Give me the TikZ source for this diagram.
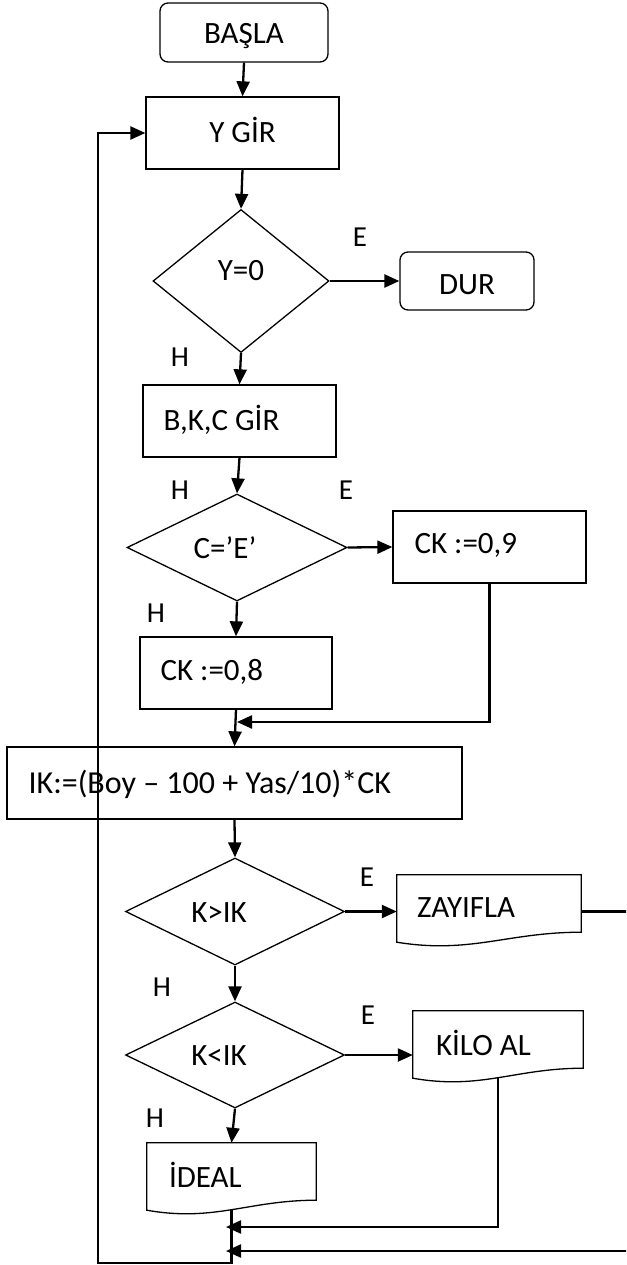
\documentclass[tikz,border=0pt]{standalone}
\usepackage{fontspec}
\setmainfont{Carlito}
\usetikzlibrary{shapes.geometric,arrows.meta,calc}
\newcommand\docshape[1]{%
  \draw[outl] (#1.south east) -- (#1.north east) -- (#1.north west) -- ([yshift=-10pt]#1.south west)
    .. controls ($(#1.south west)!0.4!(#1.south east)+(0pt,-22pt)$) and ($(#1.south west)!0.6!(#1.south east)$) .. (#1.south east) -- cycle;}
\begin{document}
\begin{tikzpicture}[x=1pt,y=-1pt,
  every node/.style={font=\fontsize{31pt}{37pt}\selectfont, inner sep=0pt},
  outl/.style={line width=1.3pt, line join=miter},
  proc/.style={draw, outl, rectangle},
  term/.style={proc, rounded corners=8pt},
  dec/.style={draw, outl, diamond, inner sep=0pt},
  docnode/.style={rectangle, draw=none},
  conn/.style={line width=2.3pt, -{Triangle[length=15pt,width=13pt]}},
  lbl/.style={font=\fontsize{29pt}{35pt}\selectfont}]
\useasboundingbox (0,0) rectangle (626,1265);
\clip (0,0) rectangle (626,1265);
\fill[white] (0,0) rectangle (626,1265);

% shapes
\node[term, minimum width=168pt, minimum height=59pt, label={[yshift=-4pt]center:{BAŞLA}}] (basla) at (244,32.5) {};
\node[proc, minimum width=193pt, minimum height=72pt, label={[yshift=3pt]center:{Y GİR}}] (ygir) at (242.5,133) {};
\node[dec, minimum width=176pt, minimum height=143pt, label={[yshift=10pt]center:{Y=0}}] (y0) at (241,281) {};
\node[term, minimum width=134pt, minimum height=58pt, label={[yshift=-4pt]center:{DUR}}] (dur) at (467,281) {};
\node[proc, minimum width=193pt, minimum height=72pt, label={[anchor=west,xshift=21pt,yshift=1pt]west:{B,K,C GİR}}] (bkc) at (239.5,421) {};
\node[dec, minimum width=220pt, minimum height=107pt, label={[xshift=-12pt]center:{C=’E’}}] (ce) at (237,547.5) {};
\node[proc, minimum width=193pt, minimum height=72pt, label={[anchor=west,xshift=22pt,yshift=2pt]west:{CK :=0,9}}] (ck9) at (489.5,547) {};
\node[proc, minimum width=192pt, minimum height=72pt, label={[anchor=west,xshift=21pt,yshift=1pt]west:{CK :=0,8}}] (ck8) at (236,673) {};
\node[proc, minimum width=455pt, minimum height=72pt, label={[anchor=west,xshift=22pt,yshift=-1pt,font=\fontsize{32pt}{38pt}\selectfont]west:{IK:=(Boy – 100 + Yas/10)*CK}}] (ik) at (234.5,783) {};
\node[dec, minimum width=219pt, minimum height=107pt, label={[xshift=-16pt,yshift=-1.5pt]center:{K>IK}}] (kg) at (235,911.5) {};
\node[docnode, minimum width=184pt, minimum height=57pt, label={[anchor=west,xshift=20pt,yshift=-4.5pt]west:{ZAYIFLA}}] (zay) at (489,903.5) {};
\node[dec, minimum width=219pt, minimum height=106pt, label={[xshift=-16pt,yshift=-1pt]center:{K<IK}}] (kl) at (235,1055) {};
\node[docnode, minimum width=170pt, minimum height=57pt, label={[anchor=west,xshift=23pt,yshift=-3.5pt]west:{KİLO AL}}] (kilo) at (498,1039.5) {};
\node[docnode, minimum width=169pt, minimum height=57pt, label={[anchor=west,xshift=22pt,yshift=-3.5pt]west:{İDEAL}}] (ideal) at (231.5,1171.5) {};
\docshape{zay}
\docshape{kilo}
\docshape{ideal}

% branch labels
\node[lbl] (e1) at (360,237) {E};
\node[lbl] (h1) at (180,357) {H};
\node[lbl] (h2) at (180,490) {H};
\node[lbl] (e2) at (346,490) {E};
\node[lbl] (h3) at (156,613) {H};
\node[lbl] (e3) at (367,877) {E};
\node[lbl] (h4) at (162,987) {H};
\node[lbl] (e4) at (368,1015) {E};
\node[lbl] (h5) at (155,1118) {H};

% helper coordinates
\coordinate (j1) at (237,722);
\coordinate (j2) at (226,1227);
\coordinate (j3) at (226,1251);
\coordinate (lbl) at (98,1263);
\coordinate (zr) at (640,911.5);
\coordinate (kb) at ([yshift=-9.5pt]kilo.south);
\coordinate (ib) at ([yshift=-9.5pt]ideal.south);

% connectors
\draw[conn] (basla.south) -- (ygir.north);
\draw[conn] (ygir.south) -- (y0.north);
\draw[conn] (y0.east) -- (dur.west);
\draw[conn] (y0.south) -- (bkc.north);
\draw[conn] (bkc.south) -- (ce.north);
\draw[conn] (ce.east) -- (ck9.west);
\draw[conn] (ce.south) -- (ck8.north);
\draw[conn] (ck9.south) |- (j1);
\draw[conn] (ck8.south) -- (ik.north);
\draw[conn] (ik.south) -- (kg.north);
\draw[conn] (kg.east) -- (kg.east -| zay.west);
\draw[conn] (kg.south) -- (kl.north);
\draw[conn] (kl.east) -- (kl.east -| kilo.west);
\draw[conn] (kl.south) -- (ideal.north);
\draw[conn] (kb) |- (j2);
\draw[conn] (zay.east |- kg.east) -- (zr) |- (j3);
\draw[conn] (ib) |- (lbl) |- (ygir.west);
\end{tikzpicture}
\end{document}
